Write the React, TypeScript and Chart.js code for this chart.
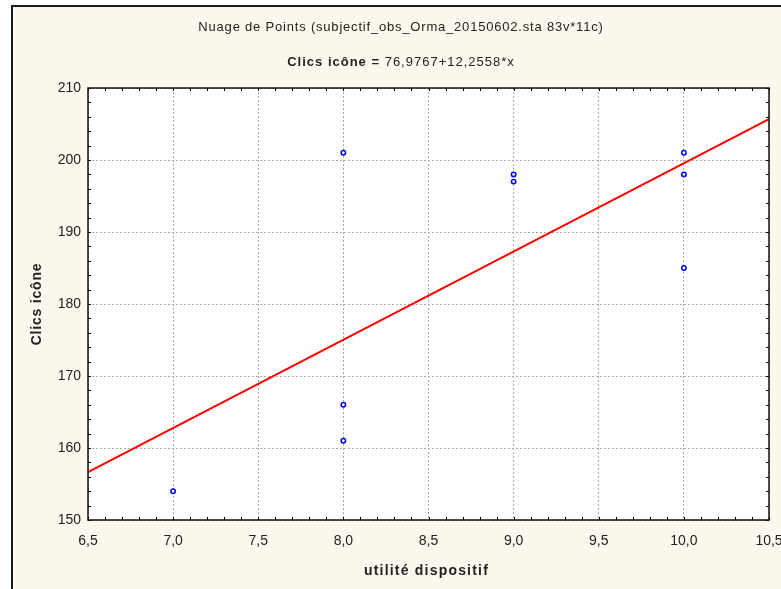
import React, { useEffect, useRef } from "react";
import { Chart, registerables } from "chart.js";

Chart.register(...registerables);

const TITLE = "Nuage de Points (subjectif_obs_Orma_20150602.sta 83v*11c)";
const EQ_BOLD = "Clics icône =";
const EQ_NORMAL = " 76,9767+12,2558*x";
const X_LABEL = "utilité dispositif";
const Y_LABEL = "Clics icône";

const xValues = [7, 8, 8, 8, 9, 9, 10, 10, 10];
const yValues = [154, 201, 166, 161, 198, 197, 201, 198, 185];

const INTERCEPT = 76.9767;
const SLOPE = 12.2558;
const X_MIN = 6.5;
const X_MAX = 10.5;
const Y_MIN = 150;
const Y_MAX = 210;

const CREAM = "#fdf8ee";

function spaced(ctx: any, text: string, spacing: number) {
  ctx.letterSpacing = spacing + "px";
  const w = ctx.measureText(text).width;
  return w;
}

const framePlugin = {
  id: "statFrame",
  beforeDraw(chart: any) {
    const { ctx, width, height, chartArea } = chart;
    ctx.save();
    ctx.fillStyle = "#ffffff";
    ctx.fillRect(0, 0, width, height);
    ctx.fillStyle = CREAM;
    ctx.fillRect(12, 5, width - 12, height - 5);
    ctx.fillStyle = "#1a1a1a";
    ctx.fillRect(11, 5, 2, height - 5);
    ctx.fillRect(11, 5, width - 11, 2);
    ctx.fillStyle = "#ffffff";
    ctx.fillRect(chartArea.left, chartArea.top, chartArea.right - chartArea.left, chartArea.bottom - chartArea.top);
    ctx.restore();
  },
  afterDraw(chart: any) {
    const { ctx, chartArea } = chart;
    const xs = chart.scales.x;
    const ys = chart.scales.y;
    ctx.save();
    ctx.strokeStyle = "#000";
    ctx.lineWidth = 1;
    ctx.beginPath();
    for (let i = 65; i <= 105; i++) {
      const px = Math.round(xs.getPixelForValue(i / 10)) + 0.5;
      ctx.moveTo(px, chartArea.bottom);
      ctx.lineTo(px, chartArea.bottom - 3);
      ctx.moveTo(px, chartArea.top);
      ctx.lineTo(px, chartArea.top + 3);
    }
    for (let v = Y_MIN; v <= Y_MAX; v += 2) {
      const py = Math.round(ys.getPixelForValue(v)) + 0.5;
      ctx.moveTo(chartArea.left, py);
      ctx.lineTo(chartArea.left + 3, py);
      ctx.moveTo(chartArea.right, py);
      ctx.lineTo(chartArea.right - 3, py);
    }
    ctx.stroke();
    ctx.lineWidth = 1.5;
    ctx.strokeStyle = "#111";
    ctx.strokeRect(chartArea.left, chartArea.top, chartArea.right - chartArea.left, chartArea.bottom - chartArea.top);

    const cx = 401;
    ctx.fillStyle = "#222";
    ctx.textBaseline = "middle";
    ctx.textAlign = "left";

    ctx.font = "13px 'Liberation Sans'";
    const wt = spaced(ctx, TITLE, 0.8);
    ctx.fillText(TITLE, cx - wt / 2, 27);

    ctx.font = "bold 13px 'Liberation Sans'";
    const wb = spaced(ctx, EQ_BOLD, 1);
    ctx.font = "13px 'Liberation Sans'";
    const wn = spaced(ctx, EQ_NORMAL, 1);
    const start = cx - (wb + wn) / 2;
    ctx.font = "bold 13px 'Liberation Sans'";
    spaced(ctx, EQ_BOLD, 1);
    ctx.fillText(EQ_BOLD, start, 62);
    ctx.font = "13px 'Liberation Sans'";
    spaced(ctx, EQ_NORMAL, 1);
    ctx.fillText(EQ_NORMAL, start + wb, 62);

    ctx.font = "bold 14px 'Liberation Sans'";
    const wx = spaced(ctx, X_LABEL, 1.2);
    ctx.fillText(X_LABEL, (chartArea.left + chartArea.right) / 2 - 2 - wx / 2, 571);

    ctx.font = "bold 14px 'Liberation Sans'";
    const wy = spaced(ctx, Y_LABEL, 0.8);
    ctx.translate(37, (chartArea.top + chartArea.bottom) / 2);
    ctx.rotate(-Math.PI / 2);
    ctx.fillText(Y_LABEL, -wy / 2, 0);
    ctx.restore();
  },
};

export default function App() {
  const ref = useRef<HTMLCanvasElement>(null);

  useEffect(() => {
    if (!ref.current) return;
    Chart.defaults.font.family = "'Liberation Sans', Arial, sans-serif";
    const points = xValues.map((x, i) => ({ x, y: yValues[i] }));
    const fitLine = [X_MIN, X_MAX].map((x) => ({ x, y: INTERCEPT + SLOPE * x }));
    const chart = new Chart(ref.current, {
      type: "scatter",
      data: {
        datasets: [
          {
            label: "fit",
            type: "line",
            data: fitLine,
            borderColor: "#ff0000",
            borderWidth: 2,
            pointRadius: 0,
            fill: false,
            order: 2,
          } as any,
          {
            label: "obs",
            data: points,
            pointStyle: "circle",
            pointRadius: 2.2,
            borderWidth: 1.5,
            borderColor: "#0000ff",
            backgroundColor: "#ffffff",
            order: 1,
          },
        ],
      },
      options: {
        responsive: false,
        animation: false,
        events: [],
        layout: { padding: { top: 88, right: 12, bottom: 0, left: 0 } },
        plugins: {
          legend: { display: false },
          tooltip: { enabled: false },
          title: { display: false },
        },
        scales: {
          x: {
            type: "linear",
            min: X_MIN,
            max: X_MAX,
            ticks: {
              stepSize: 0.5,
              padding: 13,
              color: "#222",
              font: { size: 14 },
              maxRotation: 0,
              callback: (v: any) => Number(v).toFixed(1).replace(".", ","),
            },
            grid: { color: "#aaaaaa", lineWidth: 1, drawTicks: false },
            border: { display: false, dash: [2, 2] },
            title: { display: false },
            afterFit: (s: any) => {
              s.height = 69;
              s.paddingLeft = 0;
              s.paddingRight = 0;
            },
          },
          y: {
            type: "linear",
            min: Y_MIN,
            max: Y_MAX,
            ticks: {
              stepSize: 10,
              padding: 7,
              color: "#222",
              font: { size: 14 },
            },
            grid: { color: "#aaaaaa", lineWidth: 1, drawTicks: false },
            border: { display: false, dash: [2, 2] },
            title: { display: false },
            afterFit: (s: any) => {
              s.width = 88;
              s.paddingTop = 0;
              s.paddingBottom = 0;
            },
          },
        },
      },
      plugins: [framePlugin],
    });
    return () => chart.destroy();
  }, []);

  return (
    <div style={{ position: "absolute", left: 0, top: 0, width: 781, height: 589 }}>
      <canvas ref={ref} width={781} height={589} style={{ display: "block" }} />
    </div>
  );
}
